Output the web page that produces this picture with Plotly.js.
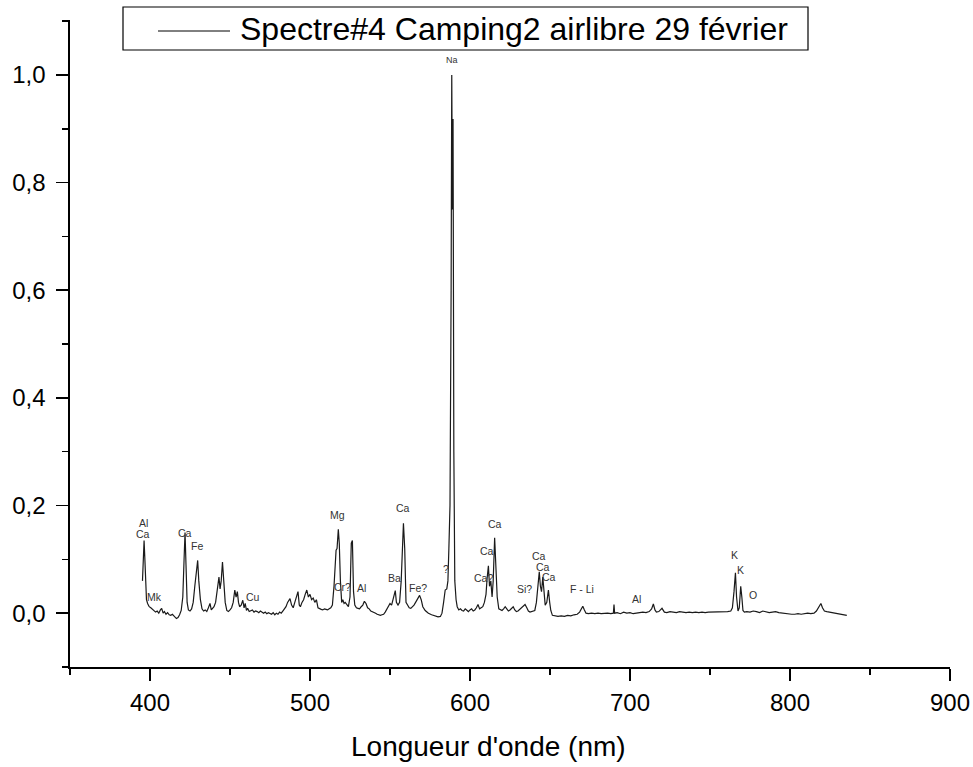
<!DOCTYPE html>
<html>
<head>
<meta charset="utf-8">
<script src="https://cdn.plot.ly/plotly-3.0.1.min.js"></script>
<style>html,body{margin:0;padding:0;background:#fff;}#chart{width:973px;height:767px;}</style>
</head>
<body>
<div id="chart"></div>
<script>
// Wavelength (nm)
const wavelength = [
395.3,395.8,396.3,396.8,397.2,397.8,398.5,399.5,400.5,401.5,402.5,403.5,404.5,405.5,406.5,407.3,408.2,409,410,411,412,413,414,415,416.5,417.5,418.5,419.5,420.5,421.3,421.9,422.5,423.2,424,425,426,427,428,429,429.8,430.5,431.5,432.5,433.5,434.5,435.5,436.5,437.5,438.3,439.2,440,441,442,443.1,443.8,444.5,445.3,446,447,448,449,450,451,452,453,453.8,454.6,455.3,456,457,458,458.8,459.5,460.3,461,462,463,464,465,466,467,468,469,470,471,472,473,474,475,476,477,478,479,480,481,482,483,484,485,486,487.5,488.5,489.5,490.5,491.5,492.5,493.3,494,495,496,497,498,499,500,501,502,503,504,505,506,507,508,509,510,511,512,513,514,515,516.3,516.9,517.7,518.3,519,519.8,520.5,521.3,522,523,524,525,525.8,526.5,527.2,528,529,530,531,532,533,534,535,536,537,538,539,540,541,542,543,544,545,546,547,548,549,550,551,552,553.3,554,555,556,557,558.4,559.2,560,561,562,563,564,565,566,567,568.5,569.5,570.5,572,574,576,578,580,581.5,582.5,583.5,584.5,585.5,586.2,586.8,587.5,588.2,588.6,589.0,589.4,589.9,590.5,591.3,592,593,594,595,596,597,598,599,600,601,602,603,604,605,606,607,608,609,610,610.7,611.5,612.2,613,613.8,614.5,615.4,616.3,617,618,619,620,621,622,623,624,625,626,627,628,629,630,631,632,633,634.4,635.5,636.5,637.5,638.5,639.5,640.5,641.5,642.5,643.3,644,644.7,645.5,646.2,647,648,649,649.8,650.5,651.5,653,655,657,659,661,663,665,667,668.5,669.5,670.5,671.5,672.5,674,676,678,680,682,684,686,688,689.6,690,690.4,692,694,696,698,700,702,704,706,708,710,712,713.5,714.6,715.6,716.5,718,720,721.5,723,725,727,729,731,733,735,737,739,741,743,745,747,749,751,753,755,757,759,761,763,764,765,765.9,766.6,767.5,768.3,769.2,769.9,770.6,771.5,773,775,777,779,781,783,785,787,789,791,793,795,797,799,801,803,805,807,809,811,813,815,816.5,818,819.3,820.3,821.5,823,825,827,829,831,833,835.5
];
// Normalized intensity
const intensity = [
0.06,0.13,0.135,0.10,0.05,0.025,0.018,0.012,0.01,0.007,0.004,0.002,0.004,0.0,0.006,0.009,0.0,0.003,-0.002,0.001,-0.003,-0.004,-0.002,-0.006,-0.01,-0.008,-0.003,0.005,0.03,0.10,0.15,0.09,0.02,0.006,0.004,0.008,0.02,0.05,0.08,0.098,0.06,0.025,0.008,0.004,0.006,0.003,0.01,0.018,0.006,0.01,0.012,0.02,0.04,0.067,0.045,0.06,0.095,0.06,0.02,0.005,0.003,0.006,0.01,0.02,0.043,0.03,0.04,0.02,0.012,0.015,0.024,0.01,0.018,0.005,0.009,0.003,0.005,0.006,0.002,0.004,0.003,0.001,0.004,0.002,0.0,0.002,-0.001,0.001,0.0,-0.002,0.001,-0.003,0.0,-0.002,0.002,0.0,0.004,0.008,0.012,0.02,0.027,0.015,0.01,0.02,0.03,0.04,0.015,0.012,0.02,0.025,0.035,0.043,0.03,0.035,0.025,0.028,0.02,0.025,0.01,0.008,0.007,0.006,0.008,0.007,0.006,0.008,0.01,0.015,0.05,0.117,0.12,0.156,0.13,0.06,0.02,0.025,0.018,0.02,0.015,0.012,0.03,0.13,0.135,0.04,0.015,0.01,0.009,0.008,0.012,0.015,0.022,0.018,0.01,0.008,0.004,0.003,0.001,0.0,-0.002,-0.003,-0.004,-0.003,-0.002,0.002,0.008,0.012,0.018,0.015,0.025,0.042,0.02,0.015,0.02,0.06,0.167,0.12,0.02,0.015,0.01,0.009,0.012,0.015,0.02,0.025,0.033,0.025,0.012,0.005,0.0,-0.003,-0.005,-0.007,-0.006,0.0,0.02,0.043,0.045,0.06,0.12,0.2,0.6,1.0,0.75,0.918,0.3,0.06,0.025,0.012,0.006,0.008,0.005,0.004,0.008,0.005,0.003,0.006,0.008,0.004,0.006,0.01,0.016,0.008,0.01,0.012,0.02,0.035,0.065,0.088,0.05,0.06,0.03,0.06,0.14,0.09,0.03,0.008,0.006,0.005,0.008,0.012,0.008,0.004,0.006,0.01,0.012,0.006,0.003,0.004,0.007,0.01,0.013,0.016,0.01,0.004,0.002,0.003,0.005,0.005,0.02,0.05,0.077,0.05,0.04,0.067,0.04,0.015,0.02,0.043,0.02,0.005,-0.004,-0.005,-0.006,-0.005,-0.006,-0.004,-0.005,-0.003,-0.002,0.002,0.008,0.013,0.006,0.0,-0.001,0.0,-0.001,0.0,-0.001,0.0,0.0,-0.001,0.0,0.016,0.0,0.001,-0.001,0.002,0.0,0.001,-0.001,0.0,0.001,0.002,0.001,0.003,0.008,0.017,0.006,0.002,0.003,0.009,0.002,0.001,0.003,0.002,0.001,0.003,0.002,0.001,0.002,0.001,0.002,0.001,0.002,0.001,0.002,0.002,0.003,0.002,0.003,0.002,0.003,0.004,0.01,0.04,0.075,0.03,0.004,0.01,0.05,0.03,0.005,0.002,0.003,0.002,0.004,0.003,0.001,0.004,0.003,0.001,0.002,0.003,0.001,0.0,-0.001,-0.001,-0.002,-0.002,-0.001,-0.002,-0.001,0.0,-0.001,0.0,0.004,0.012,0.018,0.01,0.004,0.003,0.002,0.001,0.0,-0.001,-0.002,-0.004
];
// Peak labels
const peakLabels = ["Al","Ca","Mk","Ca","Fe","Cu","Mg","Cr?","Al","Ba","Ca","Fe?","?","Na","Ca?","Ca","Ca","Si?","Ca","Ca","Ca","F - Li","Al","K","K","O"];
const labelX = [395.8,395.8,403.1,421.9,429.2,464.6,517.3,520.4,532.3,552.5,558.3,567.7,585,588.6,608.3,610.8,615.6,633.8,643.3,645.4,649.6,669.8,704.2,765.6,768.8,776.7];
const labelY = [0.167,0.148,0.030,0.149,0.125,0.030,0.182,0.049,0.046,0.066,0.195,0.046,0.083,1.028,0.065,0.116,0.165,0.045,0.106,0.085,0.068,0.044,0.027,0.108,0.081,0.033];
const seriesName = "Spectre#4 Camping2 airlibre 29 février";
const xTitle = "Longueur d'onde (nm)";

const FONT = "Liberation Sans, Arial, sans-serif";

const annotations = peakLabels.map((t, i) => ({
  x: labelX[i], y: labelY[i], xref: 'x', yref: 'y', text: t, showarrow: false,
  font: {family: FONT, size: t === 'Na' ? 9 : 10.5, color: '#333'},
  xanchor: 'center', yanchor: 'middle'
}));
// legend text (drawn manually to match the long sample line)
annotations.push({
  xref: 'paper', yref: 'paper', x: (238 - 70) / 880, y: (667 - 29) / 647,
  xanchor: 'left', yanchor: 'middle', showarrow: false, text: seriesName,
  font: {family: FONT, size: 32, color: '#000'}
});
// x-axis title (placed like the reference, slightly left of centre)
annotations.push({
  xref: 'paper', yref: 'paper', x: (488 - 70) / 880, y: (667 - 746) / 647,
  xanchor: 'center', yanchor: 'middle', showarrow: false, text: xTitle,
  font: {family: FONT, size: 28, color: '#000'}
});

const layout = {
  width: 973, height: 767,
  margin: {l: 70, r: 23, t: 20, b: 100},
  paper_bgcolor: '#fff', plot_bgcolor: '#fff',
  showlegend: false,
  separators: ',.',
  font: {family: FONT, color: '#000'},
  xaxis: {
    range: [350, 900], showgrid: false, zeroline: false,
    showline: true, linecolor: '#000', linewidth: 1.6,
    ticks: 'outside', ticklen: 12, tickwidth: 1.6, tickcolor: '#000',
    tick0: 400, dtick: 100, tickfont: {family: FONT, size: 24},
    ticklabelstandoff: 2,
    minor: {dtick: 50, tick0: 350, ticks: 'outside', ticklen: 6, tickwidth: 1.6, tickcolor: '#000'}
  },
  yaxis: {
    range: [-0.1, 1.102], showgrid: false, zeroline: false,
    showline: true, linecolor: '#000', linewidth: 1.6,
    ticks: 'outside', ticklen: 12, tickwidth: 1.6, tickcolor: '#000',
    tick0: 0, dtick: 0.2, tickformat: '.1f', tickfont: {family: FONT, size: 24},
    ticklabelstandoff: 6,
    minor: {dtick: 0.1, tick0: 0, ticks: 'outside', ticklen: 6, tickwidth: 1.6, tickcolor: '#000'}
  },
  shapes: [
    {type: 'rect', xref: 'paper', yref: 'paper',
     x0: (123 - 70) / 880, x1: (808 - 70) / 880, y0: (667 - 50) / 647, y1: (667 - 7) / 647,
     line: {color: '#000', width: 1.2}, fillcolor: '#fff', layer: 'above'},
    {type: 'line', xref: 'paper', yref: 'paper',
     x0: (158 - 70) / 880, x1: (230 - 70) / 880, y0: (667 - 31) / 647, y1: (667 - 31) / 647,
     line: {color: '#000', width: 1}, layer: 'above'}
  ],
  annotations: annotations
};

Plotly.newPlot('chart', [{
  x: wavelength, y: intensity, type: 'scatter', mode: 'lines', name: seriesName,
  line: {color: '#1a1a1a', width: 1.2}, hoverinfo: 'x+y'
}], layout, {displayModeBar: false, staticPlot: true});
</script>
</body>
</html>
